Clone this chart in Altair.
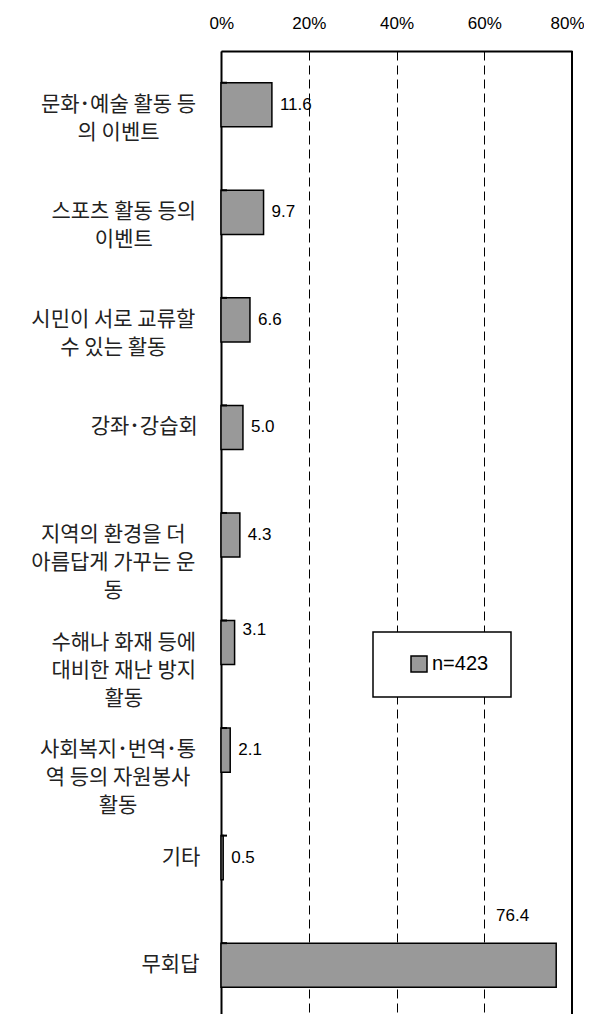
import altair as alt
import pandas as pd

# ---- data ----
categories = [
    "문화･예술 활동 등\n의 이벤트",
    "스포츠 활동 등의\n이벤트",
    "시민이 서로 교류할\n수 있는 활동",
    "강좌･강습회",
    "지역의 환경을 더\n아름답게 가꾸는 운\n동",
    "수해나 화재 등에\n대비한 재난 방지\n활동",
    "사회복지･번역･통\n역 등의 자원봉사\n활동",
    "기타",
    "무회답",
]
values = [11.6, 9.7, 6.6, 5.0, 4.3, 3.1, 2.1, 0.5, 76.4]
x_ticks = [0, 20, 40, 60, 80]
series_name = "n=423"

# ---- layout ----
W, H = 351, 968
X_MAX = 80
FS = 21
GAP = 19
px_per = W / X_MAX


def text_width(s):
    w = 0.0
    for ch in s:
        if ch == " ":
            w += 0.224 * FS
        elif ch == "･":
            w += 0.5 * FS
        elif ord(ch) >= 0x1100:
            w += FS
        else:
            w += 0.55 * FS
    return w


label_x = [-(GAP + max(text_width(l) for l in c.split("\n")) / 2) / px_per for c in categories]

df = pd.DataFrame({"cat": categories, "value": values, "series": series_name, "lx": label_x})

xscale = alt.Scale(domain=[0, X_MAX], nice=False, zero=True)
xaxis = alt.Axis(
    orient="top", values=x_ticks, labelExpr="datum.value + '%'", title=None,
    grid=True, gridDash=[9, 5], gridColor="black", gridWidth=1,
    domainColor="black", domainWidth=2, ticks=False, tickSize=0,
    labelPadding=23, labelBaseline="alphabetic",
    labelFlush=True, labelFlushOffset=12,
    labelFont="Liberation Sans", labelFontSize=17, labelColor="black",
)
yscale = alt.Scale(paddingInner=0.59, paddingOuter=0.295)
Y = alt.Y("cat:N", sort=categories, scale=yscale,
          axis=alt.Axis(labels=False, ticks=False, title=None, grid=False,
                        domainColor="black", domainWidth=2))

base = alt.Chart(df)

bars = base.mark_bar(stroke="black", strokeWidth=1.5).encode(
    x=alt.X("value:Q", scale=xscale, axis=xaxis),
    y=Y,
    color=alt.Color(
        "series:N",
        scale=alt.Scale(domain=[series_name], range=["#999999"]),
        legend=alt.Legend(
            title=None, orient="none", legendX=152, legendY=581, padding=22,
            strokeColor="black", fillColor="white", symbolType="square",
            symbolSize=256, symbolStrokeColor="black", symbolStrokeWidth=1.5,
            labelFont="Liberation Sans", labelFontSize=20, labelColor="black",
            labelOffset=3, symbolOffset=14,
        ),
    ),
)

ticks = base.mark_rule(color="black", strokeWidth=2).encode(
    y=alt.Y("cat:N", sort=categories, scale=yscale, bandPosition=0),
    x=alt.value(0), x2=alt.value(6),
)

cat_labels = base.mark_text(
    align="center", baseline="middle", lineBreak="\n", font="Noto Sans CJK KR",
    fontSize=FS, lineHeight=28, color="#222222",
).encode(x=alt.X("lx:Q", scale=xscale), y=Y, text="cat:N")

normal = [c for c, v in zip(categories, values) if v not in (3.1, 76.4)]
txt_kw = dict(font="Liberation Sans", fontSize=17, color="black", baseline="middle")
val_normal = base.transform_filter(alt.FieldOneOfPredicate(field="cat", oneOf=normal)).mark_text(
    align="left", dx=8, **txt_kw
).encode(x=alt.X("value:Q", scale=xscale), y=Y, text=alt.Text("value:Q", format=".1f"))
val_31 = base.transform_filter(alt.FieldEqualPredicate(field="cat", equal=categories[5])).mark_text(
    align="left", dx=8, dy=-13, **txt_kw
).encode(x=alt.X("value:Q", scale=xscale), y=Y, text=alt.Text("value:Q", format=".1f"))
val_764 = base.transform_filter(alt.FieldEqualPredicate(field="cat", equal=categories[8])).mark_text(
    align="right", dx=-27, dy=-49, **txt_kw
).encode(x=alt.X("value:Q", scale=xscale), y=Y, text=alt.Text("value:Q", format=".1f"))

right_border = alt.Chart(pd.DataFrame({"v": [X_MAX]})).mark_rule(color="black", strokeWidth=2).encode(
    x=alt.X("v:Q", scale=xscale)
)

chart = alt.layer(bars, ticks, cat_labels, val_normal, val_31, val_764, right_border).properties(
    width=W, height=H,
    autosize=alt.AutoSizeParams(type="none"),
    padding={"left": 213, "top": 43, "right": 12, "bottom": 0},
).configure_view(stroke=None).configure_legend(strokeWidth=1.5)

chart.save("out.html", embed_options={"renderer": "svg", "actions": False})
